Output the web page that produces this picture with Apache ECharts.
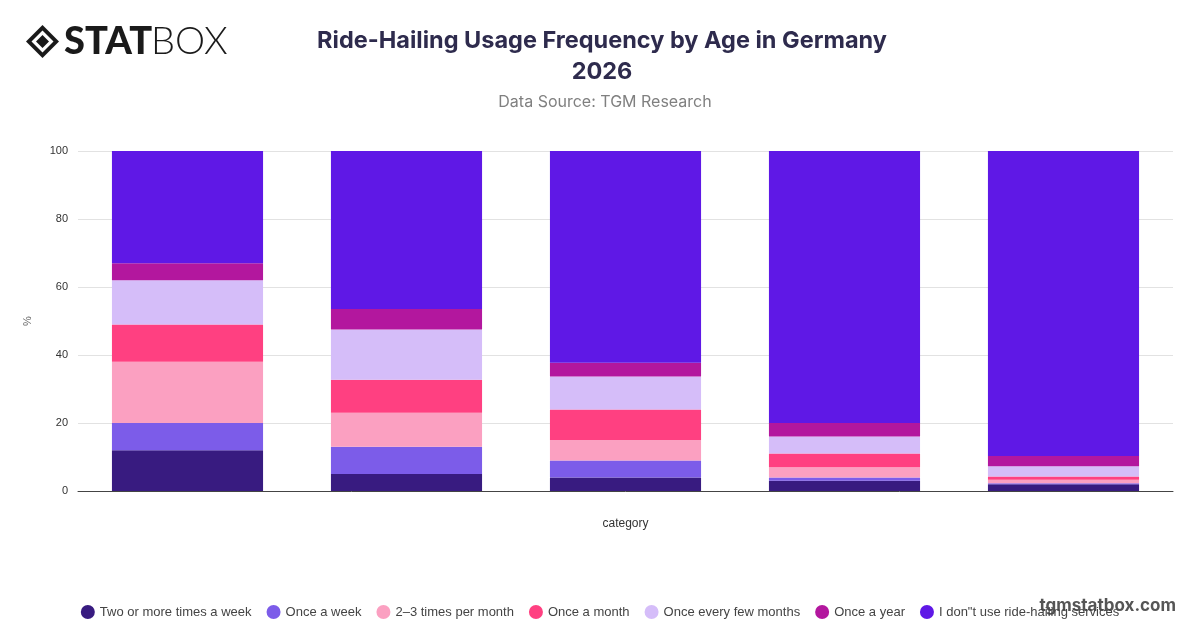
<!DOCTYPE html>
<html>
<head>
<meta charset="utf-8">
<script src="https://cdn.jsdelivr.net/npm/echarts@6/dist/echarts.min.js"></script>
<style>
html,body{margin:0;padding:0;background:#fff;}
#chart{width:1200px;height:628px;}
</style>
</head>
<body>
<div id="chart"></div>
<script>
const categories = ["18–24", "25–34", "35–44", "45–54", "55+"];
const seriesNames = [
  "Two or more times a week",
  "Once a week",
  "2–3 times per month",
  "Once a month",
  "Once every few months",
  "Once a year",
  "I don\"t use ride-hailing services"
];
const twoOrMore   = [12, 5, 4, 3, 2];
const onceWeek    = [8, 8, 5, 1, 0.3];
const twoThree    = [18, 10, 6, 3, 1];
const onceMonth   = [11, 9.7, 9, 4, 1];
const fewMonths   = [13, 14.8, 9.7, 5, 3];
const onceYear    = [5, 6, 4, 4, 3];
const dontUse     = [33, 46.5, 62.3, 80, 89.7];
const yTicks = [0, 20, 40, 60, 80, 100];

const seriesData = [twoOrMore, onceWeek, twoThree, onceMonth, fewMonths, onceYear, dontUse];
const colors = ["#381b80", "#7c5ce9", "#fba0c1", "#ff4081", "#d5bdf9", "#b3179e", "#5f18e6"];

const chart = echarts.init(document.getElementById('chart'), null, {renderer: 'canvas'});
const option = {
  animation: false,
  backgroundColor: '#ffffff',
  color: colors,
  title: [
    {
      text: 'Ride-Hailing Usage Frequency by Age in Germany\n2026',
      left: 597, top: 20, textAlign: 'center',
      textStyle: {fontFamily: 'Inter', fontSize: 23.5, fontWeight: 'bold', color: '#2e2b4d', lineHeight: 31}
    },
    {
      text: 'Data Source: TGM Research',
      left: 600, top: 89, textAlign: 'center',
      textStyle: {fontFamily: 'Inter', fontSize: 16, fontWeight: 'normal', color: '#808080'}
    }
  ],
  grid: {left: 78, right: 27, top: 151, bottom: 137, containLabel: false},
  xAxis: {
    type: 'category',
    data: categories,
    name: 'category',
    nameLocation: 'middle',
    nameGap: 27,
    nameTextStyle: {fontFamily: 'Liberation Sans', fontSize: 12, color: '#333'},
    axisLine: {show: true, lineStyle: {color: '#444', width: 1}},
    axisTick: {show: false},
    axisLabel: {show: false}
  },
  yAxis: {
    type: 'value',
    min: 0, max: 100, interval: 20,
    name: '%',
    nameLocation: 'middle',
    nameGap: 45,
    nameTextStyle: {fontFamily: 'Liberation Sans', fontSize: 11, color: '#666'},
    axisLine: {show: false},
    axisTick: {show: false},
    axisLabel: {
      fontFamily: 'Liberation Sans', fontSize: 11, color: '#333', margin: 10,
      formatter: v => yTicks.includes(v) ? String(v) : ''
    },
    splitLine: {lineStyle: {color: '#e2e2e2', width: 1}}
  },
  legend: {
    bottom: 4, left: 'center',
    icon: 'circle', itemWidth: 14, itemHeight: 14, itemGap: 15,
    textStyle: {fontFamily: 'Liberation Sans', fontSize: 13, color: '#444'},
    data: seriesNames
  },
  series: seriesNames.map((name, i) => ({
    name: name,
    type: 'bar',
    stack: 'total',
    barWidth: '69%',
    data: seriesData[i],
    itemStyle: {color: colors[i]}
  })),
  graphic: [
    {
      type: 'group', left: 26, top: 23,
      children: [
        {type: 'polygon', shape: {points: [[16.5,0],[33,16.5],[16.5,33],[0,16.5]]}, style: {fill: '#1a1a1a'}},
        {type: 'polygon', shape: {points: [[16.5,5.5],[27.5,16.5],[16.5,27.5],[5.5,16.5]]}, style: {fill: '#fff'}},
        {type: 'polygon', shape: {points: [[16.5,10],[23,16.5],[16.5,23],[10,16.5]]}, style: {fill: '#1a1a1a'}},
        {type: 'text', x: 38, y: -2, style: {text: 'STAT', fontFamily: 'Lato', fontWeight: 900, fontSize: 38, fill: '#1a1a1a'}},
        {type: 'text', x: 125, y: -2, style: {text: 'BOX', fontFamily: 'Lato', fontWeight: 300, fontSize: 38, fill: '#1a1a1a'}}
      ]
    },
    {
      type: 'text', right: 24, top: 597,
      style: {text: 'tgmstatbox.com', fontFamily: 'Inter', fontWeight: 'bold', fontSize: 17, fill: '#555'}
    }
  ]
};
chart.setOption(option);
</script>
</body>
</html>
